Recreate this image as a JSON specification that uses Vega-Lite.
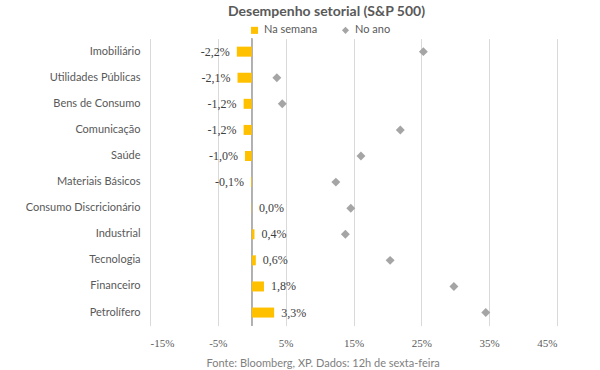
{
  "$schema": "https://vega.github.io/schema/vega-lite/v6.json",
  "autosize": "none",
  "padding": {"left": 150, "top": 38.6, "right": 43, "bottom": 44.4},
  "width": 407,
  "height": 287,
  "background": "white",
  "title": {
    "text": "Desempenho setorial (S&P 500)",
    "font": "Lato",
    "fontSize": 14,
    "fontWeight": "bold",
    "color": "#595959",
    "anchor": "middle",
    "frame": "group",
    "dx": -27,
    "dy": 14,
    "offset": 20
  },
  "data": {
    "values": [
      {"setor": "Imobiliário", "semana": -0.022, "ano": 0.253},
      {"setor": "Utilidades Públicas", "semana": -0.021, "ano": 0.037},
      {"setor": "Bens de Consumo", "semana": -0.012, "ano": 0.045},
      {"setor": "Comunicação", "semana": -0.012, "ano": 0.219},
      {"setor": "Saúde", "semana": -0.010, "ano": 0.161},
      {"setor": "Materiais Básicos", "semana": -0.001, "ano": 0.124},
      {"setor": "Consumo Discricionário", "semana": 0.0004, "ano": 0.146},
      {"setor": "Industrial", "semana": 0.004, "ano": 0.138},
      {"setor": "Tecnologia", "semana": 0.006, "ano": 0.204},
      {"setor": "Financeiro", "semana": 0.018, "ano": 0.298},
      {"setor": "Petrolífero", "semana": 0.033, "ano": 0.345}
    ]
  },
  "encoding": {
    "y": {
      "field": "setor",
      "type": "nominal",
      "sort": null,
      "scale": {"paddingInner": 0.6, "paddingOuter": 0.3},
      "axis": {
        "title": null,
        "domain": false,
        "ticks": false,
        "grid": false,
        "labelFont": "Lato",
        "labelFontSize": 11,
        "labelColor": "#595959",
        "labelPadding": 10
      }
    }
  },
  "layer": [
    {
      "mark": {"type": "rule", "color": "#b0b0b0", "strokeWidth": 1},
      "encoding": {
        "x": {"datum": 0, "type": "quantitative"},
        "y": null
      }
    },
    {
      "mark": {"type": "bar", "size": 10},
      "encoding": {
        "x": {
          "field": "semana",
          "type": "quantitative",
          "scale": {"domain": [-0.15, 0.45], "nice": false, "zero": false},
          "axis": {
            "values": [-0.15, -0.05, 0.05, 0.15, 0.25, 0.35, 0.45],
            "format": ".0%",
            "grid": true,
            "gridColor": "#d9d9d9",
            "domain": false,
            "ticks": false,
            "labelFont": "Liberation Serif",
            "labelFontSize": 11,
            "labelColor": "#595959",
            "labelPadding": 12,
            "title": "Fonte: Bloomberg, XP. Dados: 12h de sexta-feira",
            "titleFont": "Lato",
            "titleFontSize": 11,
            "titleFontWeight": "normal",
            "titleColor": "#7f7f7f",
            "titlePadding": 9,
            "titleX": 172.7,
            "titleAlign": "center"
          }
        },
        "color": {
          "datum": "Na semana",
          "type": "nominal",
          "scale": {"domain": ["Na semana", "No ano"], "range": ["#FFC000", "#A5A5A5"]},
          "legend": {
            "title": null,
            "orient": "none",
            "direction": "horizontal",
            "legendX": 99,
            "legendY": -14,
            "symbolType": "square",
            "symbolSize": 50,
            "symbolStrokeWidth": 0,
            "labelFont": "Lato",
            "labelFontSize": 11,
            "labelColor": "#595959",
            "columnPadding": 22,
            "labelOffset": 4
          }
        }
      }
    },
    {
      "mark": {"type": "point", "filled": true, "size": 80, "opacity": 1},
      "encoding": {
        "x": {"field": "ano", "type": "quantitative"},
        "color": {"datum": "No ano", "type": "nominal"},
        "shape": {
          "datum": "No ano",
          "type": "nominal",
          "scale": {"domain": ["Na semana", "No ano"], "range": ["square", "diamond"]},
          "legend": {
            "title": null,
            "orient": "none",
            "direction": "horizontal",
            "legendX": 99,
            "legendY": -14,
            "symbolType": "square",
            "symbolSize": 50,
            "symbolStrokeWidth": 0,
            "labelFont": "Lato",
            "labelFontSize": 11,
            "labelColor": "#595959",
            "columnPadding": 22,
            "labelOffset": 4
          }
        }
      }
    },
    {
      "transform": [{"filter": "datum.semana < 0"}],
      "mark": {"type": "text", "align": "right", "dx": -7, "font": "Liberation Serif", "fontSize": 12, "color": "#404040"},
      "encoding": {
        "x": {"field": "semana", "type": "quantitative"},
        "text": {"field": "semana", "type": "quantitative", "format": ".1%"}
      }
    },
    {
      "transform": [{"filter": "datum.semana >= 0"}],
      "mark": {"type": "text", "align": "left", "dx": 7, "font": "Liberation Serif", "fontSize": 12, "color": "#404040"},
      "encoding": {
        "x": {"field": "semana", "type": "quantitative"},
        "text": {"field": "semana", "type": "quantitative", "format": ".1%"}
      }
    }
  ],
  "config": {
    "view": {"stroke": null},
    "locale": {"number": {"decimal": ",", "thousands": ".", "grouping": [3], "currency": ["", ""], "minus": "-"}}
  }
}
